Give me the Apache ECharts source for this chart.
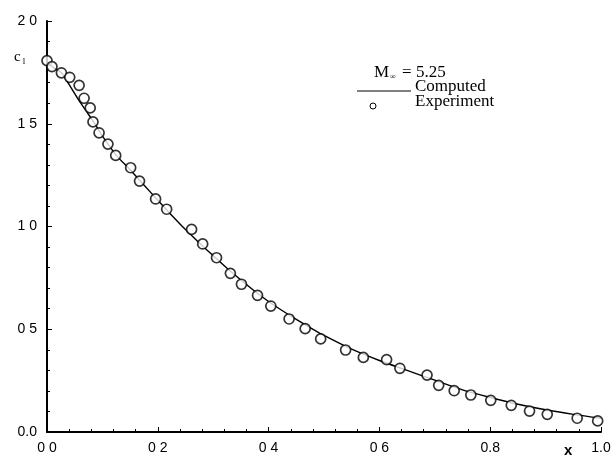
<!DOCTYPE html>
<html><head><meta charset="utf-8">
<script src="https://cdn.jsdelivr.net/npm/echarts@6/dist/echarts.min.js"></script>
<style>html,body{margin:0;padding:0;background:#fff}#c{width:615px;height:462px}</style>
</head><body><div id="c"></div>
<script>
// Computed curve
const computedX = [0, 0.012, 0.026, 0.04, 0.055, 0.07, 0.085, 0.10, 0.124, 0.15, 0.175, 0.2, 0.225, 0.25, 0.275, 0.3, 0.325, 0.35, 0.375, 0.4, 0.425, 0.45, 0.475, 0.5, 0.55, 0.6, 0.65, 0.7, 0.75, 0.8, 0.85, 0.9, 0.95, 1.0];
const computedY = [1.80, 1.772, 1.748, 1.69, 1.625, 1.565, 1.505, 1.44, 1.35, 1.276, 1.202, 1.128, 1.055, 0.985, 0.92, 0.858, 0.797, 0.74, 0.685, 0.635, 0.59, 0.548, 0.508, 0.47, 0.403, 0.348, 0.30, 0.252, 0.205, 0.168, 0.135, 0.108, 0.086, 0.067];
// Experiment points
const expX = [0, 0.009, 0.026, 0.041, 0.058, 0.067, 0.078, 0.083, 0.094, 0.110, 0.124, 0.151, 0.167, 0.196, 0.216, 0.261, 0.281, 0.306, 0.331, 0.351, 0.380, 0.404, 0.437, 0.466, 0.494, 0.539, 0.571, 0.613, 0.637, 0.686, 0.707, 0.735, 0.765, 0.801, 0.838, 0.871, 0.903, 0.957, 0.994];
const expY = [1.807, 1.778, 1.748, 1.726, 1.687, 1.624, 1.577, 1.509, 1.456, 1.401, 1.346, 1.286, 1.221, 1.134, 1.084, 0.986, 0.915, 0.848, 0.772, 0.719, 0.665, 0.613, 0.550, 0.503, 0.453, 0.399, 0.363, 0.352, 0.310, 0.277, 0.227, 0.201, 0.180, 0.154, 0.130, 0.102, 0.086, 0.067, 0.054];
// Tick labels (as printed)
const xTicks = [0, 0.2, 0.4, 0.6, 0.8, 1.0];
const xTickLabels = ['0 0', '0 2', '0 4', '0 6', '0.8', '1.0'];
const yTicks = [0, 0.5, 1.0, 1.5, 2.0];
const yTickLabels = ['0.0', '0 5', '1 0', '1 5', '2 0'];
// Texts
const legendNames = ['Computed', 'Experiment'];
const machText = ['M', '\u221e', ' = 5.25'];
const xName = 'x';
const yName = ['c', 'l'];

function lab(ticks, labels) {
  return function (v) {
    for (let i = 0; i < ticks.length; i++) if (Math.abs(ticks[i] - v) < 1e-6) return labels[i];
    return '';
  };
}

const chart = echarts.init(document.getElementById('c'), null, {renderer: 'canvas'});
const L = 47, R = 601, T = 21, B = 432;
chart.setOption({
  animation: false,
  backgroundColor: '#fff',
  grid: {left: L, right: 615 - R, top: T, bottom: 462 - B},
  xAxis: {
    type: 'value', min: 0, max: 1.0, interval: 0.2,
    axisLine: {onZero: false, lineStyle: {color: '#000', width: 2}},
    axisTick: {inside: true, length: 5, lineStyle: {color: '#000', width: 1}},
    minorTick: {show: true, splitNumber: 5, length: 3, lineStyle: {color: '#000', width: 1}},
    splitLine: {show: false},
    axisLabel: {formatter: lab(xTicks, xTickLabels), color: '#000', fontFamily: 'Liberation Sans', fontSize: 14, margin: 9}
  },
  yAxis: {
    type: 'value', min: 0, max: 2.0, interval: 0.5,
    axisLine: {onZero: false, lineStyle: {color: '#000', width: 2}},
    axisTick: {inside: true, length: 5, lineStyle: {color: '#000', width: 1}},
    minorTick: {show: true, splitNumber: 5, length: 3, lineStyle: {color: '#000', width: 1}},
    splitLine: {show: false},
    axisLabel: {formatter: lab(yTicks, yTickLabels), color: '#000', fontFamily: 'Liberation Sans', fontSize: 14, margin: 10}
  },
  series: [
    {
      name: legendNames[0], type: 'line', showSymbol: false, smooth: 0.3,
      data: computedX.map((x, i) => [x, computedY[i]]),
      lineStyle: {color: '#000', width: 1.4}, z: 2
    },
    {
      name: legendNames[1], type: 'scatter', symbol: 'circle', symbolSize: 10,
      data: expX.map((x, i) => [x, expY[i]]),
      itemStyle: {color: '#fff', borderColor: '#000', borderWidth: 1.7}, z: 3
    }
  ],
  graphic: [
    {type: 'text', left: 14, top: 50, style: {
      text: '{c|' + yName[0] + '}{s|' + yName[1] + '}',
      rich: {c: {fontFamily: 'Liberation Serif', fontSize: 15, fill: '#000'},
             s: {fontFamily: 'Liberation Serif', fontSize: 9, fill: '#000', padding: [9, 0, 0, 2]}}
    }},
    {type: 'text', left: 564, top: 443, style: {text: xName, fontFamily: 'Liberation Sans', fontWeight: 'bold', fontSize: 15, fill: '#000'}},
    {type: 'text', left: 374, top: 64, style: {
      text: '{m|' + machText[0] + '}{s|' + machText[1] + '}{m|' + machText[2] + '}',
      rich: {m: {fontFamily: 'Liberation Serif', fontSize: 17, fill: '#000'},
             s: {fontFamily: 'Liberation Serif', fontSize: 8, fill: '#000', padding: [9, 2, 0, 1]}}
    }},
    {type: 'line', shape: {x1: 357, y1: 91, x2: 411, y2: 91}, style: {stroke: '#000', lineWidth: 1}},
    {type: 'text', left: 415, top: 78, style: {text: legendNames[0], fontFamily: 'Liberation Serif', fontSize: 17, fill: '#000'}},
    {type: 'circle', shape: {cx: 373, cy: 106, r: 3}, style: {fill: '#fff', stroke: '#000', lineWidth: 1}},
    {type: 'text', left: 415, top: 93, style: {text: legendNames[1], fontFamily: 'Liberation Serif', fontSize: 17, fill: '#000'}}
  ]
});
</script>
</body></html>
